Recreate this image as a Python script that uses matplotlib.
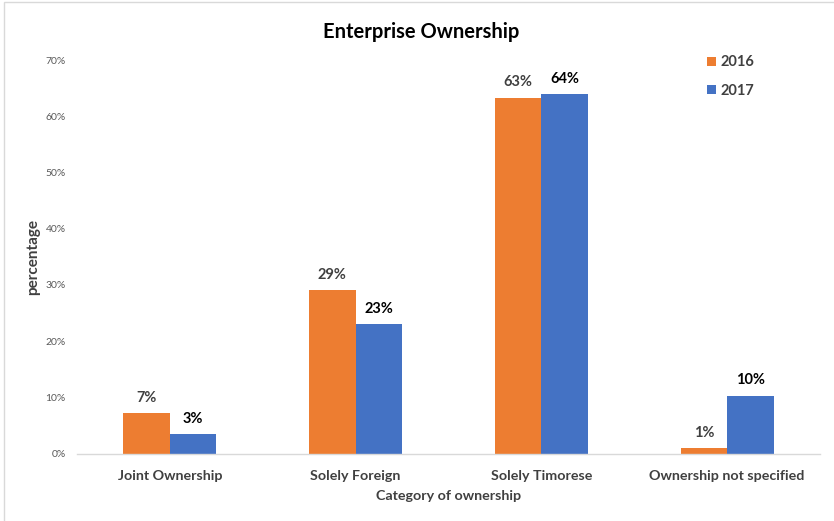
import matplotlib
matplotlib.use("Agg")
import matplotlib.pyplot as plt
from matplotlib.patches import Rectangle
from matplotlib.ticker import PercentFormatter
import numpy as np

plt.rcParams['font.family'] = ['Lato', 'DejaVu Sans']

categories = ["Joint Ownership", "Solely Foreign", "Solely Timorese", "Ownership not specified"]
series_names = ["2016", "2017"]
values_2016 = [0.0715, 0.291, 0.633, 0.010]
values_2017 = [0.034, 0.230, 0.639, 0.103]
y_ticks = [0.0, 0.1, 0.2, 0.3, 0.4, 0.5, 0.6, 0.7]

colors = ["#ED7D31", "#4472C4"]
label_colors = ["#404040", "#000000"]
text_gray = "#404040"

W, H = 834, 521
fig = plt.figure(figsize=(W / 100, H / 100), dpi=100)

# thin chart frame on top and left edges
fig.patches.append(Rectangle((4 / W, -0.1), 1.2, 1 - 2 / H + 0.1,
                             transform=fig.transFigure, fill=False,
                             edgecolor="#D9D9D9", linewidth=1.0))

left, right, top, bottom = 77, 820, 60, 453.5
ax = fig.add_axes([left / W, 1 - bottom / H, (right - left) / W, (bottom - top) / H])

x = np.arange(len(categories))
width = 0.25
for i, (vals, name) in enumerate(zip([values_2016, values_2017], series_names)):
    pos = x + (i - 0.5) * width
    bars = ax.bar(pos, vals, width, color=colors[i], label=name, zorder=2)
    for b, v in zip(bars, vals):
        ax.annotate(f"{v:.0%}", (b.get_x() + b.get_width() / 2, v),
                    xytext=(0, 6), textcoords="offset points",
                    ha="center", va="bottom", fontsize=10.5, fontweight="bold",
                    color=label_colors[i])

ax.set_xlim(-0.5, len(categories) - 0.5)
ax.set_ylim(0, 0.7)
ax.set_yticks(y_ticks)
ax.yaxis.set_major_formatter(PercentFormatter(1.0, decimals=0))
ax.set_xticks(x)
ax.set_xticklabels(categories, fontsize=10.3, fontweight="bold", color=text_gray)
ax.tick_params(axis="y", length=0, pad=8, labelsize=7.5, labelcolor="#595959")
ax.tick_params(axis="x", length=0, pad=12)

for s in ["top", "right", "left"]:
    ax.spines[s].set_visible(False)
ax.spines["bottom"].set_color("#D9D9D9")
ax.spines["bottom"].set_linewidth(1.0)

ax.set_ylabel("percentage", fontsize=11, fontweight="bold", color=text_gray)
ax.yaxis.set_label_coords(-0.05, 0.5)
ax.set_xlabel("Category of ownership", fontsize=10.3, fontweight="bold", color=text_gray, labelpad=6)

fig.text(421 / W, 1 - 32 / H, "Enterprise Ownership", ha="center", va="center",
         fontsize=14.5, fontweight="bold", color="#000000")

leg = ax.legend(loc="upper left", bbox_to_anchor=(0.83, 1.045), frameon=False,
                handlelength=0.6, handleheight=0.6, handletextpad=0.35,
                labelspacing=1.0, prop={"size": 10.5, "weight": "bold"})
for t in leg.get_texts():
    t.set_color(text_gray)

fig.savefig("out.png", dpi=100)
